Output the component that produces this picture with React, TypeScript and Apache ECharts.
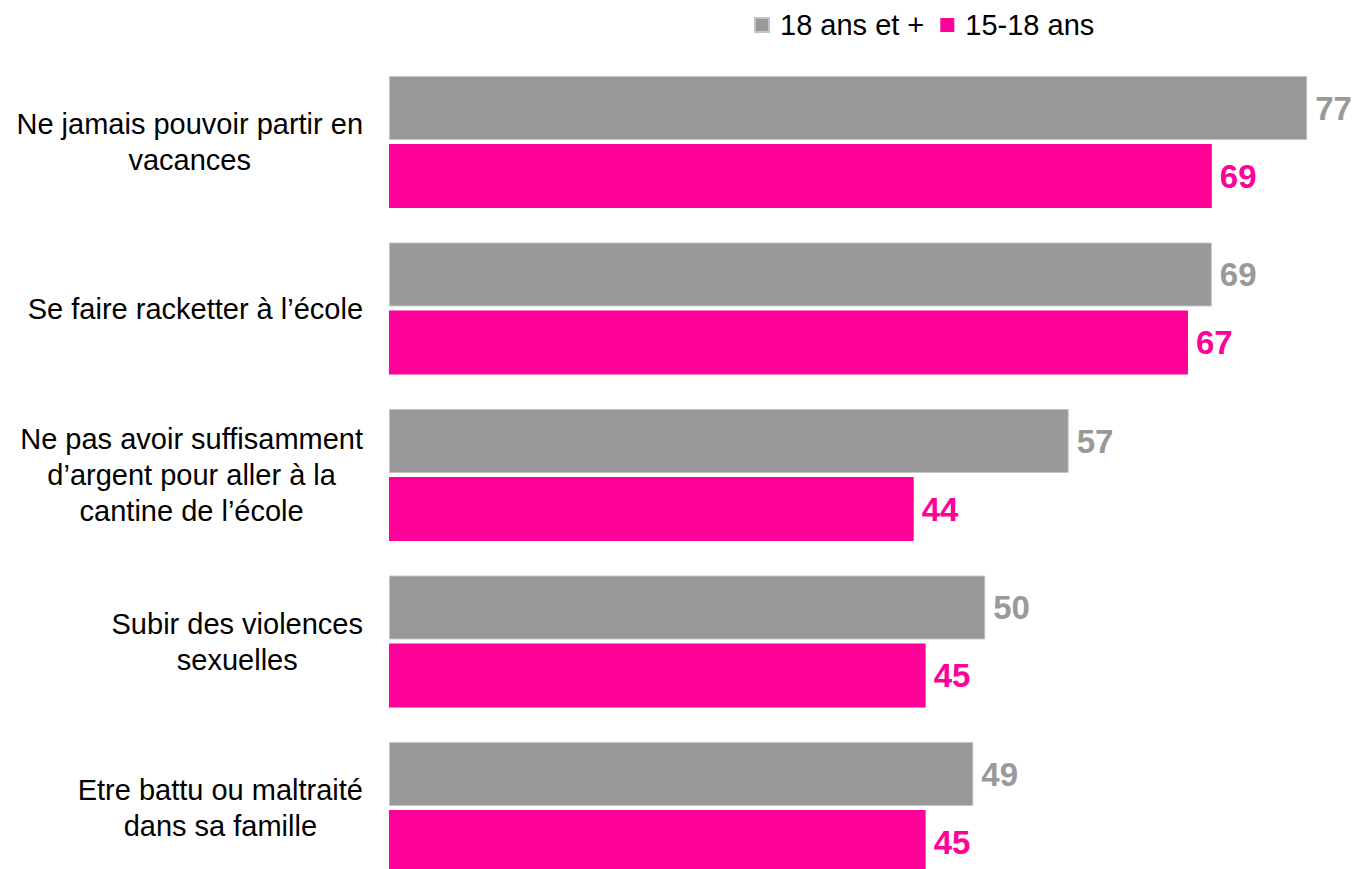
import React, { useEffect, useRef } from "react";
import * as echarts from "echarts";

const categories = [
  "Ne jamais pouvoir partir en\nvacances",
  "Se faire racketter à l’école",
  "Ne pas avoir suffisamment\nd’argent pour aller à la\ncantine de l’école",
  "Subir des violences\nsexuelles",
  "Etre battu ou maltraité\ndans sa famille",
];
const seriesNames = ["18 ans et +", "15-18 ans"];
const adults = [77, 69, 57, 50, 49];
const teens = [69, 67, 44, 45, 45];

const GRAY = "#999999";
const PINK = "#FF0099";
const FONT = "'Liberation Sans', Arial, sans-serif";

export default function App() {
  const ref = useRef<HTMLDivElement>(null);
  useEffect(() => {
    if (!ref.current) return;
    const chart = echarts.init(ref.current, undefined, { renderer: "svg" });
    chart.setOption({
      animation: false,
      textStyle: { fontFamily: FONT },
      legend: {
        left: 749,
        top: 5.5,
        icon: "rect",
        itemWidth: 14,
        itemHeight: 14,
        itemGap: 16,
        data: seriesNames,
        textStyle: { fontSize: 29, color: "#000", fontFamily: FONT, padding: [0, 0, 0, 6] },
      },
      grid: { left: 389, width: 954, top: 58.75, height: 832.5, outerBoundsMode: "none", containLabel: false },
      xAxis: { type: "value", min: 0, max: 80, show: false },
      yAxis: {
        type: "category",
        inverse: true,
        data: categories,
        axisLine: { show: false },
        axisTick: { show: false },
        axisLabel: {
          margin: 26,
          formatter: (v: string) =>
            v
              .split("\n")
              .map((l) => `{c|${l}}`)
              .join("\n"),
          rich: {
            c: { align: "center", fontSize: 29, lineHeight: 36, color: "#000", fontFamily: FONT },
          },
        },
      },
      series: [
        {
          name: seriesNames[0],
          type: "bar",
          data: adults,
          barWidth: 64,
          barGap: "6.25%",
          itemStyle: { color: GRAY, borderColor: "#c4c4c4", borderWidth: 1 },
          label: {
            show: true,
            position: "right",
            distance: 8,
            color: GRAY,
            fontSize: 33,
            fontWeight: "bold",
            fontFamily: FONT,
          },
        },
        {
          name: seriesNames[1],
          type: "bar",
          data: teens,
          barWidth: 64,
          barGap: "6.25%",
          itemStyle: { color: PINK },
          label: {
            show: true,
            position: "right",
            distance: 8,
            color: PINK,
            fontSize: 33,
            fontWeight: "bold",
            fontFamily: FONT,
          },
        },
      ],
    });
    return () => chart.dispose();
  }, []);
  return (
    <div
      ref={ref}
      style={{ position: "absolute", left: 0, top: 0, width: 1356, height: 869, background: "#fff" }}
    />
  );
}
